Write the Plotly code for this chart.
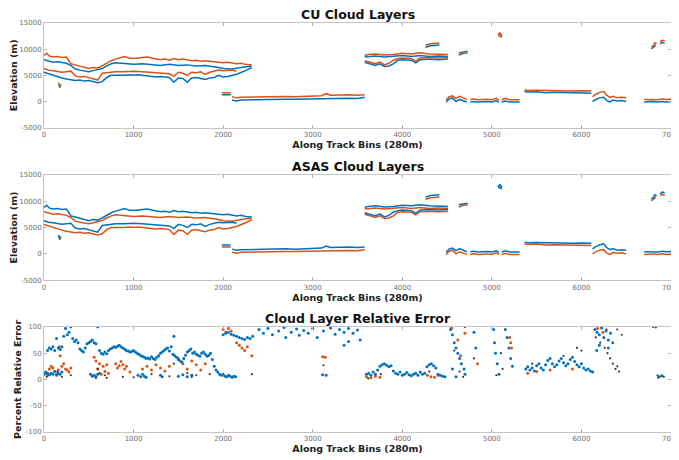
import plotly.graph_objects as go

BLUE = "#0072BD"
ORANGE = "#D95319"
DARK = "#3a3a3a"

# ---- CU cloud layers (bins, metres); None breaks a line ----
cu_orange_x = [0, 30, 60, 100, 150, 200, 250, 300, 350, 400, 450, 500, 550, 600, 650, 700, 750, 800, 850, 900,
               950, 1000, 1050, 1100, 1150, 1200, 1250, 1300, 1350, 1400, 1450, 1500, 1550, 1600, 1650, 1700,
               1750, 1800, 1850, 1900, 1950, 2000, 2050, 2100, 2150, 2200, 2250, 2320, None,
               0, 50, 100, 150, 200, 250, 300, 350, 400, 450, 500, 550, 600, 650, 700, 750, 800, 900, 1000,
               1100, 1200, 1300, 1400, 1450, 1500, 1550, 1600, 1650, 1700, 1750, 1800, 1850, 1900, 1950, 2000,
               2100, 2150, None,
               160, 170, 180, 190, None,
               1985, 2050, 2085, None,
               2100, 2150, 2200, 2300, 2400, 2500, 2600, 2700, 2800, 2900, 3000, 3100, 3150, 3200, 3300, 3400,
               3500, 3580, None,
               3580, 3620, 3700, 3800, 3900, 4000, 4100, 4200, 4300, 4400, 4510, None,
               3580, 3650, 3700, 3750, 3800, 3850, 3900, 3950, 4000, 4100, 4150, 4200, 4300, 4400, 4510, None,
               4260, 4300, 4350, 4415, None,
               4630, 4680, 4730, None,
               5070, 5090, 5110, 5100, 5080, 5070, None,
               4490, 4520, 4560, 4600, 4640, 4680, 4720, None,
               4760, 4800, 4850, 4900, 4950, 5000, 5050, 5080, None,
               5110, 5150, 5200, 5250, 5310, None,
               5365, 5400, 5500, 5600, 5700, 5800, 5900, 6000, 6110, None,
               6125, 6150, 6200, 6250, 6280, 6320, 6350, 6400, 6450, 6500, None,
               6700, 6750, 6800, 6850, 6900, 6950, 7000, None,
               6780, 6800, 6820, 6840, None,
               6880, 6900, 6930]
cu_orange_y = [8800, 9200, 8700, 8500, 8600, 8400, 8500, 7200, 7000, 6800, 6600, 6300, 6500, 6400, 6800, 7300,
               7800, 8100, 8400, 8600, 8300, 8200, 8300, 8400, 8500, 8300, 8100, 8000, 8100, 7900, 8200, 8000,
               8100, 8000, 7800, 7900, 7700, 7800, 7700, 7600, 7500, 7400, 7500, 7300, 7200, 7300, 7100, 7000, None,
               6300, 6000, 5900, 5800, 5600, 5700, 5800, 4900, 4700, 4800, 4600, 4400, 4100, 5400, 5500, 5600,
               5700, 5700, 5800, 5700, 5600, 5500, 5300, 4800, 5600, 5400, 5000, 5600, 5500, 5700, 5200, 5600,
               5800, 6000, 5900, 6000, 5800, None,
               3600, 3200, 2900, 3300, None,
               1700, 1650, 1700, None,
               900, 700, 800, 850, 900, 850, 900, 950, 900, 950, 1000, 1100, 1500, 1200, 1250, 1300, 1200, 1300, None,
               8800, 9000, 9100, 8900, 9000, 9200, 9100, 9300, 9100, 9100, 9000, None,
               7800, 7500, 7200, 7600, 7000, 7300, 7900, 8200, 8300, 8200, 7700, 8300, 8400, 8300, 8400, None,
               10700, 11000, 11100, 11200, None,
               9300, 9500, 9600, None,
               12900, 13100, 12700, 12400, 12600, 12900, None,
               300, 900, 1100, 600, 1000, 700, 400, None,
               400, 500, 350, 400, 450, 350, 600, 300, None,
               350, 600, 350, 400, 350, None,
               2200, 2100, 2150, 2100, 2050, 2100, 2000, 2050, 2000, None,
               900, 1300, 1700, 1900, 1200, 800, 1000, 700, 800, 700, None,
               400, 350, 400, 350, 500, 400, 450, None,
               10400, 10600, 11200, 11000, None,
               11400, 11700, 11600]

cu_blue_x = [0, 50, 100, 150, 200, 250, 300, 350, 400, 450, 500, 550, 600, 650, 700, 750, 800, 900, 1000, 1100,
             1200, 1300, 1400, 1500, 1600, 1700, 1800, 1900, 1950, 2000, 2100, 2200, 2320, None,
             0, 50, 100, 150, 200, 250, 300, 350, 400, 450, 500, 550, 600, 650, 700, 750, 800, 850, 900, 950,
             1000, 1050, 1100, 1150, 1200, 1250, 1300, 1350, 1400, 1450, 1500, 1550, 1600, 1650, 1700, 1750,
             1800, 1850, 1900, 1950, 2000, 2050, 2100, 2150, 2250, 2320, None,
             165, 175, 185, None,
             1985, 2085, None,
             2100, 2150, 2200, 2300, 2400, 2500, 2600, 2700, 2800, 2900, 3000, 3100, 3200, 3300, 3400, 3500,
             3580, None,
             3580, 3700, 3800, 3900, 4000, 4100, 4200, 4300, 4400, 4510, None,
             3580, 3650, 3700, 3750, 3800, 3850, 3900, 3950, 4000, 4100, 4150, 4200, 4300, 4400, 4510, None,
             4260, 4300, 4350, 4415, None,
             4630, 4680, 4730, None,
             5075, 5095, 5110, None,
             4490, 4520, 4560, 4600, 4640, 4680, 4720, None,
             4760, 4800, 4850, 4900, 4950, 5000, 5050, 5080, None,
             5110, 5150, 5200, 5250, 5310, None,
             5365, 5400, 5500, 5600, 5700, 5800, 5900, 6000, 6110, None,
             6125, 6150, 6200, 6250, 6280, 6320, 6350, 6400, 6450, 6500, None,
             6700, 6750, 6800, 6850, 6900, 6950, 7000, None,
             6780, 6800, 6830, None,
             6880, 6900, 6930]
cu_blue_y = [8000, 7700, 7500, 7600, 7400, 7300, 6900, 6200, 6000, 5900, 5700, 5900, 6100, 6300, 6800, 7200,
             7400, 7300, 7100, 7200, 7000, 6900, 7100, 6900, 7000, 6800, 6900, 6700, 6500, 6300, 6200, 6500,
             6800, None,
             5600, 5300, 5000, 4800, 4500, 4300, 4200, 4000, 4100, 3900, 4000, 3800, 3600, 3800, 4600, 5000,
             5000, 4900, 5000, 5100, 5000, 5100, 5000, 4900, 4800, 4700, 4800, 4700, 4600, 3700, 4500, 4400,
             3700, 4500, 4600, 4400, 4200, 4500, 4600, 5000, 4700, 4800, 5000, 5200, 5900, 6500, None,
             3300, 2700, 2900, None,
             1300, 1300, None,
             300, 100, 300, 350, 400, 350, 400, 450, 450, 500, 550, 600, 650, 700, 650, 600, 800, None,
             8500, 8700, 8500, 8700, 8800, 8600, 8800, 8600, 8700, 8600, None,
             7500, 7100, 6900, 7200, 6700, 6800, 7200, 7900, 8000, 7900, 7400, 8000, 8100, 8000, 8100, None,
             10300, 10600, 10700, 10800, None,
             8900, 9200, 9300, None,
             12800, 12500, 12300, None,
             -100, 500, 700, 0, 400, 100, -100, None,
             -100, 0, -100, -50, 0, -100, 200, -100, None,
             -100, 100, -100, -50, -100, None,
             1900, 1800, 1850, 1700, 1750, 1700, 1650, 1700, 1600, None,
             0, 300, 700, 800, 200, -100, 300, 100, 200, 0, None,
             -100, -50, 0, -100, 0, -100, -50, None,
             10100, 10300, 10800, None,
             11000, 11300, 11100]

# ---- ASAS cloud layers: same layer edges, colours swapped (blue above orange) ----
asas_blue_x = cu_orange_x
asas_blue_y = cu_orange_y
asas_orange_x = cu_blue_x
asas_orange_y = cu_blue_y

# ---- relative error (%) ----
err_blue_x = [40, 60, 80, 100, 120, 140, 160, 180, 200, 220, 240, 260, 280, 300, 320, 340, 360, 380, 400, 420,
              440, 460, 480, 500, 520, 540, 560, 580, 600, 620, 640, 660, 680, 700, 720, 740, 760, 780, 800, 820,
              840, 860, 880, 900, 920, 940, 960, 980, 1000, 1020, 1040, 1060, 1080, 1100, 1120, 1140, 1160, 1180,
              1200, 1220, 1240, 1260, 1280, 1300, 1320, 1340, 1360, 1380, 1400, 1420, 1440, 1450, 1460, 1480,
              1500, 1520, 1540, 1560, 1580, 1600, 1620, 1640, 1660, 1680, 1700, 1720, 1740, 1760, 1780, 1800,
              1820, 1840, 1860, 1880, 1900, 1920, 1940, 1960, 1980, 2000, 2020, 2040, 2060, 2080, 2100, 2120,
              2140,
              2000, 2030, 2060, 2090, 2120, 2150, 2180, 2210, 2240, 2270, 2300, 2330,
              0, 20, 40, 60, 80, 100, 120, 140, 160, 180, 200, 520, 540, 560, 580, 600, 1050, 1080, 1100, 1120,
              1140, 1300, 1320, 1500, 1550, 1600, 1650,
              2400, 2450, 2500, 2550, 2620, 2680, 2700, 2760, 2820, 2850, 2900, 2950, 3000, 3050, 3120, 3200,
              3250, 3300, 3350, 3400, 3450, 3500, 3530, 3400, 3350, 3110, 3150,
              3600, 3625, 3650, 3675, 3700, 3725, 3750, 3775, 3800, 3825, 3850, 3875, 3900, 3925, 3950, 3975,
              4000, 4025, 4050, 4075, 4100, 4125, 4150, 4175, 4200, 4225, 4250, 4275, 4300, 4325, 4350, 4375,
              4400, 4425, 4450, 4475,
              4540, 4560, 4580, 4600, 4620, 4640, 4660, 4690, 4700, 4560, 4600, 4800, 4820,
              5020, 5030, 5040, 5060, 5080, 5150, 5170, 5190, 5210, 5230,
              5380, 5400, 5425, 5450, 5475, 5500, 5525, 5550, 5575, 5600, 5625, 5650, 5675, 5700, 5725, 5750,
              5775, 5800, 5825, 5850, 5875, 5900, 5925, 5950, 5975, 6000, 6025, 6050, 6075, 6100, 6125,
              6150, 6175, 6200, 6225, 6250, 6275, 6300, 6325, 6350, 6300, 6200, 6170, 6860, 6900]
err_blue_y = [55, 60, 58, 62, 55, 78, 60, 57, 62, 82, 97, 85, 90, 100, 78, 72, 75, 70, 58, 55,
              52, 60, 68, 70, 72, 75, 70, 68, 100, 55, 50, 48, 52, 49, 55, 58, 60, 62, 61, 63,
              65, 62, 60, 58, 55, 54, 52, 53, 55, 52, 50, 48, 45, 44, 42, 40, 41, 39,
              43, 40, 38, 42, 45, 50, 52, 55, 58, 60, 54, 62, 48, 82, 45, 42,
              38, 35, 33, 40, 46, 52, 55, 58, 50, 52, 48, 46, 44, 50, 52, 48,
              44, 46, 50, 38, 25, 18, 14, 10, 8, 10, 6, 5, 8, 6, 4, 6,
              5,
              85, 88, 90, 86, 84, 82, 80, 78, 76, 80, 78, 82,
              10, 14, 12, 9, 12, 10, 15, 8, 12, 10, 14, 10, 6, 8, 5, 10, 8, 5, 10, 6,
              4, 8, 5, 6, 9, 5, 8,
              95, 88, 97, 85, 92, 99, 80, 90, 96, 84, 93, 88, 97, 80, 92, 98,
              86, 95, 90, 97, 88, 94, 75, 72, 65, 9, 8,
              10, 12, 8, 14, 10, 18, 25, 28, 30, 27, 24, 26, 16, 12, 10, 14,
              8, 10, 13, 9, 7, 10, 12, 8, 14, 10, 12, 24, 28, 30, 26, 22,
              10, 8, 6, 5,
              95, 85, 70, 60, 50, 40, 30, 20, 10, 20, 5, 90, 60,
              95, 70, 50, 30, 10, 95, 80, 60, 40, 25,
              20, 24, 18, 22, 16, 26, 30, 22, 18, 28, 36, 40, 30, 24, 28, 35,
              40, 32, 26, 30, 38, 42, 34, 28, 24, 30, 22, 18, 20, 16, 14,
              95, 90, 85, 98, 80, 92, 75, 88, 70, 60, 65, 55, 4, 7]

err_orange_x = [20, 40, 60, 80, 100, 120, 140, 160, 170, 180, 200, 220, 240, 260, 280, 300, 560, 580, 600, 620,
                640, 660, 680, 700, 720, 800, 820, 840, 860, 880, 900, 920, 960, 1100, 1150, 1200, 1250, 1300,
                1350, 1400, 1500, 1550, 1600, 1650, 1700, 1750, 1800, 2000, 2030, 2060, 2090, 2150, 2180, 2210,
                2240, 2270, 2320, 3110, 3140, 3600, 3650, 3700, 3750, 4280, 4320, 4360, 4400,
                4550, 4620, 4650, 4700, 4840, 5200, 5210, 5220, 5400, 5500, 5650, 5900, 6180, 6240]
err_orange_y = [12, 8, 20, 25, 22, 15, 10, 18, 62, 45, 25, 30, 20, 18, 14, 22, 42, 35, 20, 30,
                10, 25, 15, 28, 12, 30, 22, 26, 34, 28, 20, 25, 14, 20, 25, 18, 28, 22,
                16, 25, 40, 30, 20, 35, 28, 18, 30, 95, 90, 97, 92, 70, 65, 60,
                55, 62, 45, 43, 42, 5, 3, 6, 4, 8, 5, 4, 8,
                98, 75, 45, 88, 30, 80, 70, 60, 12, 15, 18, 20, 97, 90]

err_dark_x = [30, 150, 200, 300, 580, 600, 620, 680, 700, 880, 1000, 1200, 1400, 1450, 1600, 1650, 1700, 1850,
              2320, 3120, 3620, 3760, 4300, 4580, 4640, 4700, 4680, 4800, 5050, 5100, 5120, 5450, 5800, 6000,
              5950, 6160, 6210, 6260, 6290, 6320, 6350, 6380, 6400, 6420, 6280, 6400, 6450, 6800, 6830, 6850,
              6880, 6920]
err_dark_y = [5, 15, 5, 8, 3, 20, 12, 8, 3, 5, 4, 10, 6, 30, 12, 5, 8, 10,
              10, 27, 2, 10, 15, 55, 15, 100, 5, 40, 8, 50, 20, 30, 45, 55,
              60, 80, 70, 60, 50, 40, 30, 20, 25, 15, 95, 95, 85, 100, 99, 8,
              6, 5]

x_ticks = [0, 1000, 2000, 3000, 4000, 5000, 6000, 7000]
elev_ticks = [-5000, 0, 5000, 10000, 15000]
err_ticks = [-100, -50, 0, 50, 100]

fig = go.Figure()


def add_line(x, y, color, axis):
    fig.add_trace(go.Scatter(x=x, y=y, mode="lines", line=dict(color=color, width=1.5),
                             xaxis="x" + axis, yaxis="y" + axis, showlegend=False, connectgaps=False))


def add_dots(x, y, color, size):
    fig.add_trace(go.Scatter(x=x, y=y, mode="markers", marker=dict(color=color, size=size),
                             xaxis="x3", yaxis="y3", showlegend=False))


add_line(cu_blue_x, cu_blue_y, BLUE, "")
add_line(cu_orange_x, cu_orange_y, ORANGE, "")
add_line(asas_orange_x, asas_orange_y, ORANGE, "2")
add_line(asas_blue_x, asas_blue_y, BLUE, "2")
add_dots(err_orange_x, err_orange_y, ORANGE, 3)
add_dots(err_blue_x, err_blue_y, BLUE, 3)
add_dots(err_dark_x, err_dark_y, DARK, 2.2)

axis_style = dict(showgrid=False, zeroline=False, showline=True, mirror="ticks", linecolor="#c4c4c4",
                  linewidth=1, ticks="inside", ticklen=3, tickcolor="#b0b0b0", automargin=False,
                  ticklabeloverflow="allow", tickfont=dict(size=7, color="#707070"))
xtitle = dict(text="<b>Along Track Bins (280m)</b>", font=dict(size=9.5, color="#222"), standoff=0)

# the page body adds an 8px offset, so the figure is 8px smaller than the window
domains = [(0.744, 1.0), (0.371, 0.629), (0.0, 0.257)]
layout = dict(width=671, height=452, paper_bgcolor="white", plot_bgcolor="white",
              margin=dict(l=36, r=8, t=15, b=28), font=dict(family="DejaVu Sans"))
for i, name in enumerate(["", "2", "3"]):
    layout["xaxis" + name] = dict(axis_style, domain=[0, 1], range=[0, 7000], tickvals=x_ticks,
                                  ticktext=[str(v) for v in x_ticks], ticklabelstandoff=0,
                                  anchor="y" + name, title=xtitle)
    if name == "3":
        yr, yt, ytitle = [-100, 100], err_ticks, "<b>Percent Relative Error</b>"
    else:
        yr, yt, ytitle = [-5000, 15000], elev_ticks, "<b>Elevation (m)</b>"
    layout["yaxis" + name] = dict(axis_style, domain=list(domains[i]), range=yr, tickvals=yt,
                                  ticktext=[str(v) for v in yt], anchor="x" + name,
                                  title=dict(text=ytitle, font=dict(size=9.5, color="#222"), standoff=2))
fig.update_layout(**layout)

titles = ["CU Cloud Layers", "ASAS Cloud Layers", "Cloud Layer Relative Error"]
for (lo, hi), t in zip(domains, titles):
    fig.add_annotation(text="<b>" + t + "</b>", x=0.5, y=hi, xref="paper", yref="paper",
                       xanchor="center", yanchor="bottom", showarrow=False, yshift=-1,
                       font=dict(size=12.5, color="#111"))

fig.write_html("out.html")
